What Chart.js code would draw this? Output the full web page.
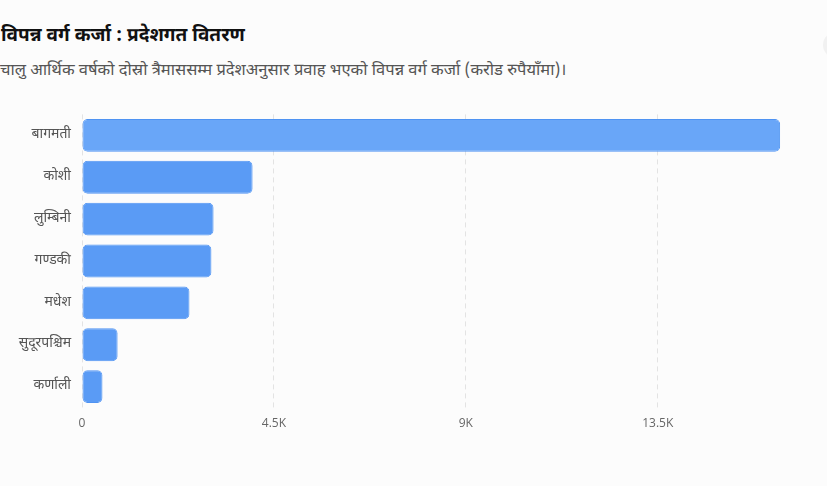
<!DOCTYPE html>
<html>
<head>
<meta charset="utf-8">
<script src="https://cdn.jsdelivr.net/npm/chart.js@4.4.1/dist/chart.umd.min.js"></script>
<style>
  html, body { margin: 0; padding: 0; background: #fcfcfc; overflow: hidden; }
  body { width: 827px; height: 486px; position: relative; font-family: "Noto Sans Devanagari", "Noto Sans", sans-serif; }
  h2 { position: absolute; left: 1px; top: 25px; margin: 0; font-size: 19px; font-weight: 700; color: #111; line-height: 24px; }
  p.sub { position: absolute; left: 0; top: 59px; margin: 0; font-size: 16.5px; color: #555; line-height: 24px; }
  #wrap { position: absolute; left: 0; top: 95px; width: 827px; height: 360px; }
  .btn { position: absolute; left: 823px; top: 32px; width: 26px; height: 26px; border-radius: 50%; background: #f1f1f1; }
</style>
</head>
<body>
<h2>विपन्न वर्ग कर्जा : प्रदेशगत वितरण</h2>
<p class="sub">चालु आर्थिक वर्षको दोस्रो त्रैमाससम्म प्रदेशअनुसार प्रवाह भएको विपन्न वर्ग कर्जा (करोड रुपैयाँमा)।</p>
<div class="btn"></div>
<div id="wrap"><canvas id="chart"></canvas></div>
<script>
// provinces and loan flow (crore rupees)
const provinces = ["बागमती", "कोशी", "लुम्बिनी", "गण्डकी", "मधेश", "सुदूरपश्चिम", "कर्णाली"];
const loans = [16370, 4000, 3085, 3035, 2520, 835, 480];
const tickValues = [0, 4500, 9000, 13500];
const tickLabels = ["0", "4.5K", "9K", "13.5K"];

const ctx = document.getElementById("chart").getContext("2d");

new Chart(ctx, {
  type: "bar",
  data: {
    labels: provinces,
    datasets: [{
      data: loans,
      backgroundColor: (c) => c.dataIndex === 0 ? "#69a6f8" : "#5a9bf5",
      borderColor: "#4f93f2",
      borderWidth: 1,
      borderRadius: 5,
      borderSkipped: false,
      categoryPercentage: 0.8,
      barPercentage: 0.98
    }]
  },
  options: {
    indexAxis: "y",
    responsive: true,
    maintainAspectRatio: false,
    animation: false,
    layout: { padding: { left: 0, right: 20, top: 18, bottom: 15 } },
    plugins: { legend: { display: false }, tooltip: { enabled: false } },
    scales: {
      x: {
        min: 0,
        max: 17000,
        border: { display: false, dash: [5, 4] },
        grid: { color: "#e3e3e3", drawTicks: false },
        ticks: {
          padding: 9,
          color: "#666",
          font: { family: "'Open Sans', 'Noto Sans', sans-serif", size: 12 },
          callback: (v) => tickLabels[tickValues.indexOf(v)]
        },
        afterBuildTicks: (axis) => {
          axis.ticks = tickValues.map(v => ({ value: v }));
        }
      },
      y: {
        border: { display: false },
        grid: { display: false, drawTicks: false },
        ticks: {
          padding: 11,
          color: "#555",
          font: { family: "'Noto Sans Devanagari', 'Noto Sans', sans-serif", size: 14 }
        },
        afterFit: (axis) => { axis.width = 82; }
      }
    }
  }
});
</script>
</body>
</html>
